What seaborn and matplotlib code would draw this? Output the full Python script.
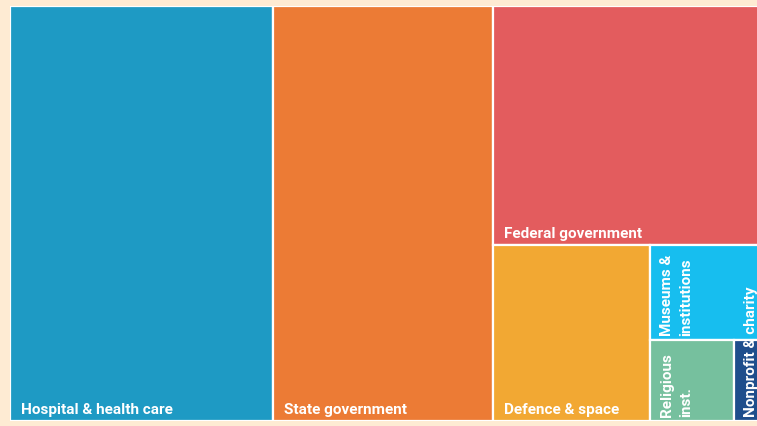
import matplotlib
matplotlib.use("Agg")
import matplotlib.pyplot as plt
from matplotlib.patches import Rectangle
import seaborn as sns

# ---- data ----
categories = ["Hospital & health care", "State government", "Federal government",
              "Defence & space", "Museums &\ninstitutions", "Religious\ninst.",
              "Nonprofit & charity"]
values = [109.0, 91.0, 67.0, 27.6, 11.9, 6.7, 3.3]
colors = ["#1E9AC4", "#EC7B35", "#E35C5E", "#F2A833", "#17BEEF", "#76C09E", "#1F4E8C"]

BG = "#FEEBD3"
sns.set_theme(style="white", rc={"figure.facecolor": BG, "axes.facecolor": BG})
plt.rcParams["font.family"] = ["Roboto", "DejaVu Sans"]


def worst(row, short):
    s = sum(row)
    return max(max(short * short * r / (s * s), (s * s) / (short * short * r)) for r in row)


def squarify(vals, x, y, w, h):
    total = sum(vals)
    areas = [v / total * w * h for v in vals]
    rects = []
    i = 0
    while i < len(areas):
        short = min(w, h)
        row = [areas[i]]
        j = i + 1
        while j < len(areas) and worst(row + [areas[j]], short) <= worst(row, short):
            row.append(areas[j])
            j += 1
        s = sum(row)
        if w >= h:
            cw = s / h
            yy = y
            for a in row:
                rh = a / cw
                rects.append((x, yy, cw, rh))
                yy += rh
            x += cw
            w -= cw
        else:
            rh = s / w
            xx = x
            for a in row:
                cw = a / rh
                rects.append((xx, y, cw, rh))
                xx += cw
            y += rh
            h -= rh
        i = j
    return rects


W, H = 765.0, 415.0
fig = plt.figure(figsize=(7.57, 4.27), dpi=100)
ax = fig.add_axes([10 / 757, 5 / 427, W / 757, H / 427])
ax.set_xlim(0, W)
ax.set_ylim(H, 0)
ax.set_axis_off()

rects = squarify(values, 0, 0, W, H)
for (x, y, w, h), lab, c in zip(rects, categories, colors):
    ax.add_patch(Rectangle((x, y), w, h, facecolor=c, edgecolor="white", linewidth=1.6))
    if w < 140:
        ax.text(x + 10, y + h - 5, lab, rotation=90, ha="left", va="bottom",
                color="white", fontsize=11, fontweight="bold", linespacing=1.4)
    else:
        ax.text(x + 11, y + h - 5, lab, ha="left", va="bottom",
                color="white", fontsize=11, fontweight="bold")

fig.savefig("out.png", dpi=100, facecolor=BG)
